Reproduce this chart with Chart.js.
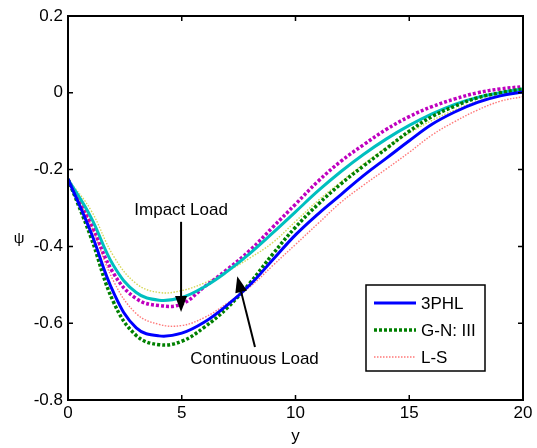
<!DOCTYPE html>
<html lang="en">
<head>
    <meta charset="UTF-8">
    <title>Psi vs y</title>
    <style>
        body { margin: 0; background: #fff; }
        .chart-box { position: relative; width: 537px; height: 448px; }
    </style>
    <script src="https://cdn.jsdelivr.net/npm/chart.js@4.4.1/dist/chart.umd.min.js"></script>
</head>
<body>
<div class="chart-box">
    <canvas id="psiChart"></canvas>
</div>

<script>
    // sample positions along y
    const yPos = [0, 1, 2, 3, 4, 5, 6, 7, 8, 9, 10, 11, 12, 13, 14, 15, 16, 17, 18, 19, 20];

    // continuous load
    const contPHL = [-0.225, -0.362, -0.52, -0.612, -0.633, -0.626, -0.597, -0.553, -0.5, -0.435, -0.37, -0.315, -0.265, -0.215, -0.17, -0.125, -0.082, -0.05, -0.025, -0.008, 0.002];
    const contGN = [-0.225, -0.375, -0.545, -0.632, -0.656, -0.647, -0.61, -0.56, -0.495, -0.42, -0.35, -0.29, -0.237, -0.19, -0.145, -0.1, -0.062, -0.035, -0.013, 0.0, 0.01];
    const contLS = [-0.225, -0.344, -0.49, -0.575, -0.603, -0.606, -0.585, -0.548, -0.505, -0.45, -0.395, -0.34, -0.285, -0.24, -0.198, -0.155, -0.11, -0.075, -0.045, -0.022, -0.01];

    // impact load
    const impPHL = [-0.225, -0.323, -0.45, -0.52, -0.54, -0.533, -0.505, -0.465, -0.418, -0.365, -0.31, -0.255, -0.205, -0.16, -0.12, -0.085, -0.055, -0.03, -0.012, 0.0, 0.01];
    const impGN = [-0.225, -0.34, -0.47, -0.536, -0.554, -0.55, -0.505, -0.46, -0.41, -0.35, -0.29, -0.23, -0.178, -0.135, -0.095, -0.062, -0.036, -0.016, 0.0, 0.01, 0.016];
    const impLS = [-0.225, -0.305, -0.425, -0.497, -0.52, -0.515, -0.495, -0.465, -0.43, -0.39, -0.335, -0.28, -0.232, -0.185, -0.143, -0.105, -0.072, -0.045, -0.022, -0.008, 0.0];

    const xTicks = [0, 5, 10, 15, 20];
    const yTicks = [0.2, 0, -0.2, -0.4, -0.6, -0.8];
    const legendNames = ['3PHL', 'G-N: III', 'L-S'];

    const FONT = 'Arial, "Liberation Sans", sans-serif';

    function pts(vals) {
        return yPos.map((x, i) => ({ x: x, y: vals[i] }));
    }

    function line(vals, color, width, dash, label) {
        return {
            label: label || '',
            data: pts(vals),
            borderColor: color,
            borderWidth: width,
            borderDash: dash,
            pointRadius: 0,
            fill: false,
            tension: 0.4
        };
    }

    // frame, inward ticks, labels, arrows and the legend box
    const decorations = {
        id: 'decorations',
        afterDraw(chart) {
            const ctx = chart.ctx;
            const a = chart.chartArea;
            const xs = chart.scales.x, ys = chart.scales.y;
            ctx.save();
            ctx.strokeStyle = '#000';
            ctx.lineWidth = 2;
            ctx.strokeRect(a.left, a.top, a.right - a.left, a.bottom - a.top);

            ctx.lineWidth = 1.5;
            ctx.beginPath();
            xTicks.forEach(t => {
                const px = xs.getPixelForValue(t);
                ctx.moveTo(px, a.bottom); ctx.lineTo(px, a.bottom - 5);
                ctx.moveTo(px, a.top); ctx.lineTo(px, a.top + 5);
            });
            yTicks.forEach(t => {
                const py = ys.getPixelForValue(t);
                ctx.moveTo(a.left, py); ctx.lineTo(a.left + 5, py);
                ctx.moveTo(a.right, py); ctx.lineTo(a.right - 5, py);
            });
            ctx.stroke();

            // axis titles
            ctx.fillStyle = '#000';
            ctx.textAlign = 'center';
            ctx.textBaseline = 'middle';
            ctx.font = '15px ' + FONT;
            ctx.fillText('\u03C8', 19, 239);
            ctx.font = '17px ' + FONT;
            ctx.fillText('y', (a.left + a.right) / 2, 436);

            // annotations
            function arrow(x1, y1, x2, y2) {
                const p1 = [xs.getPixelForValue(x1), ys.getPixelForValue(y1)];
                const p2 = [xs.getPixelForValue(x2), ys.getPixelForValue(y2)];
                const ang = Math.atan2(p2[1] - p1[1], p2[0] - p1[0]);
                const len = 16, half = 6;
                const bx = p2[0] - len * Math.cos(ang), by = p2[1] - len * Math.sin(ang);
                ctx.lineWidth = 2;
                ctx.beginPath();
                ctx.moveTo(p1[0], p1[1]);
                ctx.lineTo(bx, by);
                ctx.stroke();
                ctx.beginPath();
                ctx.moveTo(p2[0], p2[1]);
                ctx.lineTo(bx + half * Math.sin(ang), by - half * Math.cos(ang));
                ctx.lineTo(bx - half * Math.sin(ang), by + half * Math.cos(ang));
                ctx.closePath();
                ctx.fill();
            }
            ctx.font = '17px ' + FONT;
            ctx.fillText('Impact Load', xs.getPixelForValue(4.97), ys.getPixelForValue(-0.305));
            arrow(4.97, -0.336, 4.97, -0.571);
            ctx.fillText('Continuous Load', xs.getPixelForValue(8.2), ys.getPixelForValue(-0.693));
            arrow(8.22, -0.662, 7.44, -0.478);

            // legend
            const lx = 366, ly = 285, lw = 119, lh = 86;
            ctx.fillStyle = '#fff';
            ctx.fillRect(lx, ly, lw, lh);
            ctx.lineWidth = 1.5;
            ctx.strokeStyle = '#000';
            ctx.strokeRect(lx, ly, lw, lh);
            const rows = [303, 330, 357];
            legendNames.forEach((name, i) => {
                const ds = chart.data.datasets[i];
                ctx.save();
                ctx.strokeStyle = ds.borderColor;
                ctx.lineWidth = ds.borderWidth;
                ctx.setLineDash(ds.borderDash || []);
                ctx.beginPath();
                ctx.moveTo(374, rows[i]);
                ctx.lineTo(416, rows[i]);
                ctx.stroke();
                ctx.restore();
                ctx.fillStyle = '#000';
                ctx.textAlign = 'left';
                ctx.fillText(name, 421, rows[i] + 1);
            });
            ctx.restore();
        }
    };

    document.addEventListener('DOMContentLoaded', function() {
        const ctx = document.getElementById('psiChart').getContext('2d');
        new Chart(ctx, {
            type: 'line',
            data: {
                datasets: [
                    line(contPHL, '#0000ff', 3, [], legendNames[0]),
                    line(contGN, '#008000', 3.5, [3, 2], legendNames[1]),
                    line(contLS, 'rgba(255,30,30,0.6)', 1.4, [1.5, 1.5], legendNames[2]),
                    line(impPHL, '#00bfbf', 3, []),
                    line(impGN, '#bf00bf', 3.5, [3, 2]),
                    line(impLS, 'rgba(200,200,30,0.75)', 1.4, [1.5, 1.5])
                ]
            },
            options: {
                responsive: true,
                maintainAspectRatio: false,
                animation: false,
                layout: { padding: { top: 16, right: 14, left: 0, bottom: 0 } },
                scales: {
                    x: {
                        type: 'linear', min: 0, max: 20,
                        afterFit: s => { s.height = 48; },
                        afterBuildTicks: s => { s.ticks = xTicks.map(v => ({ value: v })); },
                        grid: { display: false, drawTicks: false },
                        border: { display: false },
                        ticks: { color: '#000', font: { size: 17, family: FONT }, padding: 3, maxRotation: 0 }
                    },
                    y: {
                        type: 'linear', min: -0.8, max: 0.2,
                        afterFit: s => { s.width = 68; },
                        afterBuildTicks: s => { s.ticks = yTicks.map(v => ({ value: v })); },
                        grid: { display: false, drawTicks: false },
                        border: { display: false },
                        ticks: {
                            color: '#000', font: { size: 17, family: FONT }, padding: 5,
                            callback: v => String(+v.toFixed(1))
                        }
                    }
                },
                plugins: { legend: { display: false }, tooltip: { enabled: false } }
            },
            plugins: [decorations]
        });
    });
</script>
</body>
</html>
